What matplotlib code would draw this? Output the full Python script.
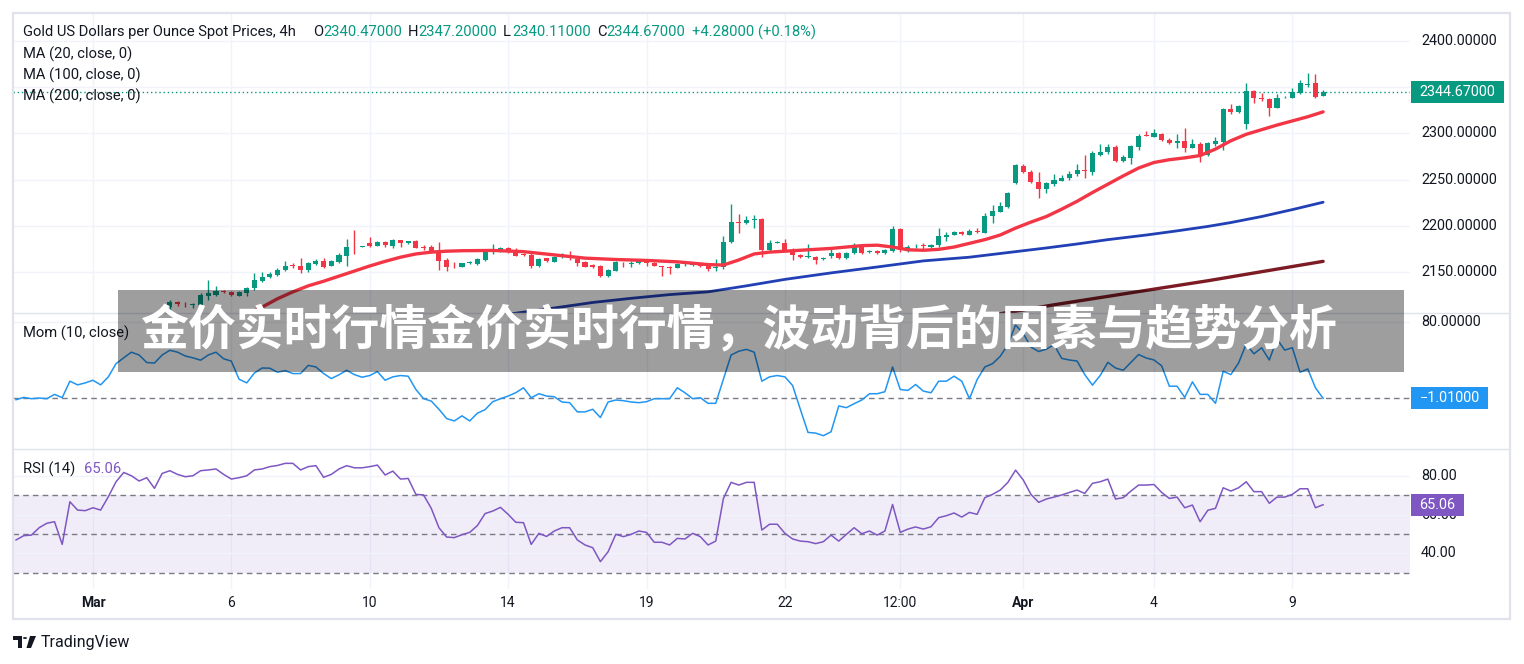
import numpy as np
import matplotlib
matplotlib.use("Agg")
import matplotlib.pyplot as plt
from matplotlib.patches import Rectangle, Circle, Polygon
from matplotlib.lines import Line2D
from matplotlib.transforms import blended_transform_factory

# ---------------- data ----------------
title_cn = "金价实时行情金价实时行情，波动背后的因素与趋势分析"
symbol_name = "Gold US Dollars per Ounce Spot Prices, 4h"
hdr_open, hdr_high, hdr_low, hdr_close = "2340.47000", "2347.20000", "2340.11000", "2344.67000"
hdr_change = "+4.28000 (+0.18%)"

tick_bars = [10, 28, 46, 64, 82, 100, 115, 131, 148, 166]
tick_labels = ["Mar", "6", "10", "14", "19", "22", "12:00", "Apr", "4", "9"]
price_grid = [2150, 2200, 2250, 2300, 2350, 2400]
price_labels = [2150, 2200, 2250, 2300, 2400]   # 2350 is hidden behind the price tag
mom_ticks = [80]
rsi_ticks = [80, 60, 40]
rsi_levels = [70, 50, 30]

first_bar = 20
opens = [
    2112, 2117, 2115.2, 2114, 2114, 2124, 2125.5, 2129.5, 2128.3, 2124.5,
    2127.5, 2132.3, 2140.5, 2144.5, 2147, 2151.8, 2157, 2156.5, 2152.2, 2159,
    2162.3, 2156.9, 2161.2, 2167.7, 2177.4, 2177, 2181.8, 2178.5, 2182.9, 2178.5,
    2184.7, 2181, 2183.6, 2176.4, 2177.4, 2171.3, 2163, 2157.6, 2155.4, 2160,
    2158.7, 2163, 2171.5, 2172, 2175.6, 2172, 2169, 2168.4, 2156.9, 2164.8,
    2161.2, 2166.6, 2165, 2164.1, 2160.6, 2157.5, 2156.4, 2145.6, 2151.4, 2158.8,
    2159, 2159.4, 2160.5, 2160, 2156.5, 2155, 2154.5, 2158.6, 2158, 2158.5,
    2156.4, 2154.7, 2155, 2182.8, 2203.3, 2202.6, 2206.5, 2207, 2173.8, 2181.7,
    2181.7, 2172, 2168.3, 2166.5, 2166.5, 2163.6, 2167.3, 2170.9, 2164.7, 2170.2,
    2177.4, 2171.9, 2173, 2170.2, 2172.7, 2196.1, 2173, 2177.6, 2178.6, 2176.6,
    2179.2, 2188.2, 2190, 2193.6, 2190, 2194, 2192.5, 2210.2, 2215.3, 2220.6,
    2245.9, 2265, 2257.8, 2247.7, 2239.8, 2244.8, 2248.4, 2251.3, 2255.7, 2259.5,
    2258.5, 2276.6, 2279.5, 2285.6, 2270.1, 2273.7, 2285.6, 2297.9, 2296.4, 2299,
    2292.8, 2289.2, 2291.7, 2284.5, 2288.1, 2276.6, 2288.1, 2290.3, 2326.4, 2322.8,
    2309.8, 2345.9, 2337.5, 2337.2, 2327.8, 2339, 2338.6, 2343.3, 2352.8, 2354.2,
    2340.47]
highs = [
    2120, 2118.7, 2117, 2116.5, 2127, 2141, 2135, 2130.5, 2129, 2129,
    2134, 2148.6, 2150, 2150, 2154, 2161.9, 2159.4, 2164.8, 2161.2, 2164,
    2164.8, 2163, 2170.2, 2185.7, 2195.5, 2178.5, 2188.3, 2183, 2183.5, 2185.7,
    2185, 2184, 2184.7, 2179.3, 2179.3, 2182.9, 2164.8, 2160.5, 2160, 2162,
    2165, 2174.6, 2180, 2176.5, 2176.7, 2175.6, 2170.5, 2170.2, 2164.8, 2165.5,
    2167, 2170.2, 2172.7, 2165, 2161.5, 2158.3, 2157.5, 2153, 2162, 2161.1,
    2162, 2163, 2163, 2160.5, 2157, 2156, 2160, 2160, 2160, 2159,
    2157, 2164.4, 2188.9, 2223.5, 2212.7, 2210.5, 2211.6, 2208, 2184.6, 2183,
    2185.3, 2175.5, 2169, 2180.3, 2167, 2166, 2177.4, 2171.5, 2171.5, 2181,
    2178, 2173.5, 2174, 2174.5, 2199.7, 2197.2, 2179.2, 2180, 2181.5, 2180,
    2197.2, 2193.6, 2194.5, 2194.5, 2196.1, 2197.5, 2213.4, 2222.5, 2226, 2236.9,
    2266.5, 2266.5, 2260.3, 2258.5, 2247, 2255.7, 2254.9, 2259.3, 2266.5, 2276.6,
    2280.9, 2288.1, 2288.1, 2287.4, 2276.5, 2287.5, 2299, 2302.6, 2304.7, 2300,
    2295, 2299, 2306.2, 2293.9, 2291, 2291, 2296.4, 2327.8, 2331.4, 2331,
    2354.2, 2347, 2343.3, 2338, 2342.2, 2340.5, 2348.7, 2357.8, 2365, 2363.9,
    2347.2]
lows = [
    2108, 2113, 2112.5, 2111, 2112, 2120, 2124, 2127.5, 2124, 2123.5,
    2124, 2131, 2139.5, 2143.5, 2146, 2151, 2154, 2148.6, 2150.4, 2158,
    2154, 2156, 2159.4, 2156.9, 2169.1, 2176.5, 2177.4, 2178, 2177, 2175.6,
    2177, 2180.5, 2175.6, 2173.8, 2170.5, 2152.2, 2151.1, 2154.7, 2155, 2158.3,
    2158, 2161.9, 2169, 2171.5, 2170.2, 2167, 2167.7, 2154, 2155.8, 2161,
    2160.5, 2165.5, 2163, 2156.9, 2155, 2154, 2145, 2145, 2150.8, 2155,
    2155, 2158.5, 2157, 2156.5, 2146, 2148, 2154, 2157, 2156, 2155,
    2151, 2151.4, 2153, 2181, 2192.5, 2201.5, 2197.2, 2166.5, 2172, 2181,
    2172, 2162.9, 2165, 2165.4, 2158.6, 2163, 2164.7, 2164, 2164, 2169.5,
    2169.5, 2170.5, 2169, 2169.5, 2172, 2172, 2172, 2175.5, 2174.5, 2175.5,
    2177.4, 2183.9, 2189.5, 2190.5, 2189.5, 2192, 2191.8, 2202.6, 2214.5, 2219.5,
    2244.8, 2257, 2246, 2229.7, 2235.1, 2243.5, 2248, 2249.5, 2254.2, 2251.3,
    2254.9, 2275.9, 2277.5, 2269.5, 2268.5, 2266.5, 2282, 2297, 2296, 2292,
    2288.5, 2283.8, 2280.2, 2284, 2268.6, 2275, 2286.5, 2282, 2321.5, 2322,
    2304.7, 2332.5, 2335, 2319.2, 2327, 2338, 2338, 2342.5, 2350.6, 2338.6,
    2340.11]
closes = [
    2117, 2115, 2114.8, 2115.5, 2125, 2127.5, 2129.5, 2128.3, 2125, 2128,
    2132.3, 2141.4, 2145, 2147.5, 2152.2, 2156.9, 2156.5, 2152.2, 2159.4, 2162.3,
    2155.8, 2161.9, 2168.4, 2177.4, 2176.7, 2177.6, 2178.2, 2182.1, 2179.3, 2184.7,
    2181, 2183.6, 2176.4, 2175.8, 2171.3, 2161.9, 2155.8, 2157.2, 2159.4, 2160.2,
    2164.1, 2172, 2172, 2175.6, 2172, 2167.7, 2168.5, 2156.9, 2163.7, 2161.9,
    2166.6, 2169.1, 2164.8, 2159.4, 2155.8, 2155, 2145.6, 2152.1, 2161.1, 2158.4,
    2159.4, 2162.2, 2160.2, 2157, 2155, 2154.5, 2158.6, 2158.9, 2158.8, 2156.2,
    2152.8, 2155, 2182.8, 2204.4, 2203, 2206.2, 2207, 2173.8, 2181.7, 2182,
    2172.7, 2168.3, 2165.8, 2166.9, 2163, 2165.4, 2170.9, 2164.7, 2170.9, 2176.6,
    2170.2, 2172.2, 2170.2, 2173.8, 2196.1, 2173.8, 2177.4, 2178.1, 2178.1, 2179.2,
    2188.9, 2190, 2193.6, 2191.1, 2194.7, 2193.6, 2210.2, 2216.2, 2221.7, 2235.1,
    2265.8, 2257.8, 2247, 2239.8, 2245.9, 2249.5, 2252, 2255.7, 2260.3, 2259.3,
    2278.4, 2279.5, 2285.6, 2270.1, 2274.8, 2286.7, 2297.5, 2297.5, 2300, 2292.8,
    2289.2, 2291.7, 2284.5, 2288.1, 2276.6, 2289.2, 2291.7, 2326.4, 2322.8, 2330,
    2345.9, 2337.9, 2337.2, 2327.8, 2338.6, 2339.4, 2344.4, 2354.2, 2353.1, 2339.7,
    2344.67]

ma20_bars = [30, 32, 34, 36, 38, 40, 42, 44, 46, 48, 50, 52, 54, 56, 58, 62, 66, 70, 74, 78,
             82, 86, 90, 92, 94, 96, 98, 102, 106, 110, 112, 114, 116, 118, 120, 122, 124, 126, 128, 130,
             132, 134, 136, 138, 140, 142, 144, 146, 148, 150, 152, 154, 156, 158, 160, 162, 164, 166, 168, 170]
ma20_vals = [2104, 2112, 2121, 2128.5, 2135, 2140, 2145.5, 2151, 2156.5, 2161.5,
             2166, 2169.5, 2171.5, 2172.5, 2173, 2173.3, 2172, 2168.5, 2165, 2163.5,
             2162.5, 2161, 2158, 2157.5, 2163, 2169.5, 2171.5, 2173.5, 2175.5, 2178.5,
             2179, 2177, 2174, 2173.5, 2174.5, 2177, 2181, 2185, 2190, 2197.5,
             2204, 2210, 2218, 2226.5, 2236, 2245, 2254, 2262.5, 2268.5, 2271.5,
             2273.5, 2276, 2283, 2292, 2299, 2304, 2309, 2313.5, 2318, 2323.3]
ma100_bars = [62, 66, 70, 75, 80, 85, 90, 95, 100, 106, 112, 118, 124, 130, 134, 138, 142, 147,
              151, 155, 158, 162, 166, 170]
ma100_vals = [2102, 2106.5, 2111, 2117, 2121.5, 2125.5, 2128.5, 2135, 2142, 2149, 2155.4, 2162,
              2166, 2172, 2176, 2180.3, 2185, 2190, 2194.5, 2199.3, 2203.5, 2210, 2217.5, 2225.5]
ma200_bars = [126, 130, 135, 140, 145, 150, 155, 160, 165, 170]
ma200_vals = [2102, 2107.5, 2114.5, 2121, 2127.5, 2134, 2140.5, 2147.5, 2154.5, 2161.5]

mom_vals = [
    -2.5, 0, -1.4, -0.7, -1.4, 3.2, -0.3, 17.2, 13.3, 15.4,
    18.2, 13.3, 21.8, 35.8, 42, 48, 45, 37, 36.5, 45,
    50, 48, 44, 42, 39.5, 45, 48, 41, 38.5, 19.3,
    15.4, 25.9, 31.2, 31, 26.7, 28.4, 25.3, 25.3, 34, 32.3,
    25.3, 20, 24, 28.8, 24.2, 21.4, 23.2, 27.4, 18.2, 21.8,
    23.2, 22.5, 8.4, -1.4, -3.9, -12.6, -22.5, -25, -19.6, -25,
    -16.8, -13, -4.6, -1.4, 1.4, 5, 10.2, -0.4, 3.9, 1.4,
    0.7, -4.9, -5.6, -15.4, -15.4, -12.6, -21.4, -4.9, -2.8, -3.5,
    -4.9, -5.6, -4.6, -1.4, -1.4, -1.4, 10.2, 4.9, -1.4, -0.4,
    -6.3, -6.3, 19.3, 45, 49, 51, 48, 17.2, 21.8, 23.2,
    21.8, 12.6, -12.6, -37.2, -37.9, -40.7, -36.5, -9.1, -10.9, -6.7,
    -2.8, 3.9, 3.9, 6, 32.3, 8.4, 7.4, 13.7, 6.7, 4.9,
    17.2, 17.2, 22.5, 17.2, -1.4, 18.9, 32.3, 35.8, 43.6, 55.9,
    76.9, 67.8, 53.4, 48.7, 51.2, 55.9, 41.4, 39.7, 38.6, 24.2,
    13, 23.2, 37.2, 31.2, 28.8, 37.2, 45.5, 41.8, 39.7, 33.5,
    11.9, 11.9, 0, 16.5, 3.2, 3.2, -6.3, 27.7, 24.2, 36.5,
    56.7, 46.2, 52.7, 39.7, 62, 50.2, 52.7, 26.7, 30.2, 10.2,
    -1.01]
rsi_vals = [
    46.9, 49.1, 49.4, 53.2, 55.5, 56.3, 44.6, 66.6, 62.3, 62,
    63.5, 62.3, 69.2, 76.9, 81.7, 80, 77.3, 79, 73.5, 81.2,
    82.6, 80.7, 79.5, 80, 82.6, 83, 83.5, 80.7, 78.3, 79,
    80, 83, 83.5, 84.7, 85.3, 86.4, 86.4, 83, 84.7, 85.2,
    79.2, 80.7, 83.5, 85.2, 84.1, 84.1, 84.7, 85.5, 80.4, 82.4,
    78.3, 78.6, 70.4, 70.1, 63.2, 53.2, 48.4, 48.1, 49.6, 50.8,
    54.3, 60.5, 61.8, 63.7, 60.1, 56, 55.8, 44.6, 50.3, 48.7,
    51.5, 53.2, 53.2, 46.9, 44.3, 42.9, 35.7, 40.8, 49.8, 48.6,
    49.8, 51.5, 50.8, 45.7, 45.7, 44.3, 47.7, 47.4, 50.3, 48.6,
    44.3, 46.3, 68.3, 76.6, 75.2, 76.6, 76.6, 52, 55, 55,
    50.3, 47.4, 46.3, 46, 45, 46, 49.4, 46.3, 49.8, 53.2,
    50.1, 51.5, 49.4, 51.5, 65.2, 50.8, 52.5, 53.6, 52.5, 53.7,
    58.4, 59.4, 60.8, 58.7, 61.1, 60.1, 68.7, 70.4, 72.6, 76.6,
    82.9, 77.8, 70.4, 66.3, 68, 69, 70.1, 71.4, 72.6, 70.9,
    76.1, 76.9, 78.3, 68, 68.7, 72.1, 75.2, 75.2, 75.5, 71.4,
    68.3, 69, 63.5, 64.9, 56.3, 62.2, 63.2, 73.8, 72.1, 73.8,
    76.9, 71.8, 71.8, 65.8, 69, 69, 70.4, 73.3, 73.3, 63.5,
    65.06]

# ---------------- style ----------------
GREEN = "#089981"
RED = "#f23645"
MA20_C = "#f23645"
MA100_C = "#2240b5"
MA200_C = "#7d1b24"
MOM_C = "#2196f3"
RSI_C = "#7e57c2"
TXT = "#131722"
GRID = "#f0f3fa"
BORDER = "#e0e3eb"
DASH = "#787b86"

plt.rcParams['font.family'] = ['Roboto', 'DejaVu Sans']

W, H = 1524, 664
fig = plt.figure(figsize=(W / 100, H / 100), dpi=100)
fig.patch.set_facecolor("white")


def fx(x):
    return x / W


def fy(y):
    return 1 - y / H


def rect(x0, y0, x1, y1):
    return [fx(x0), fy(y1), (x1 - x0) / W, (y1 - y0) / H]


ax_p = fig.add_axes(rect(13, 13, 1410, 313))
ax_m = fig.add_axes(rect(13, 313, 1410, 449))
ax_r = fig.add_axes(rect(13, 449, 1410, 589))
XLIM = (-0.4, 181.3)
for ax in (ax_p, ax_m, ax_r):
    ax.set_xlim(*XLIM)
    for s in ax.spines.values():
        s.set_visible(False)
    ax.set_xticks([])
    ax.set_yticks([])
    ax.patch.set_alpha(0)
    for b in tick_bars:
        ax.axvline(b, color=GRID, lw=1, zorder=0)

ax_p.set_ylim(2105.6, 2430.3)
ax_m.set_ylim(-54.8, 89.6)
ax_r.set_ylim(21.6, 93.8)

LBL_X = (1421 - 13) / (1410 - 13)
AX_FS = 10.4


def right_labels(ax, ticks, fmt, grid=None):
    for v in (grid if grid is not None else ticks):
        ax.axhline(v, color=GRID, lw=1, zorder=0)
    for v in ticks:
        ax.text(LBL_X, v, fmt.format(v), transform=ax.get_yaxis_transform(), va="center",
                ha="left", fontsize=AX_FS, color=TXT, clip_on=False)


def tag(ax, val, text, color, width_px):
    # vertical pixel position of the value through the axis' own data transform
    y_disp = ax.transData.transform((0, val))[1]
    y_fig = fig.transFigure.inverted().transform((0, y_disp))[1]
    hgt = 22 / H
    fig.add_artist(Rectangle((fx(1411), y_fig - hgt / 2), width_px / W, hgt,
                             transform=fig.transFigure, fc=color, ec="none", zorder=12))
    fig.text(fx(1411) + width_px / W / 2, y_fig, text, ha="center", va="center",
             fontsize=AX_FS, color="white", zorder=13)


# ---- main price panel ----
right_labels(ax_p, price_labels, "{:.5f}", grid=price_grid)
o = np.array(opens)
h = np.array(highs)
l = np.array(lows)
c = np.array(closes)
bars = np.arange(first_bar, first_bar + len(c))
cols = np.where(c >= o, GREEN, RED)
ax_p.vlines(bars, l, h, colors=cols, lw=1.0, zorder=3)
ax_p.bar(bars, np.maximum(np.abs(c - o), 0.7), bottom=np.minimum(o, c), width=0.66,
         color=cols, linewidth=0, zorder=4)
ax_p.plot(ma200_bars, ma200_vals, color=MA200_C, lw=2.4, zorder=5, solid_capstyle="round")
ax_p.plot(ma100_bars, ma100_vals, color=MA100_C, lw=2.0, zorder=5, solid_capstyle="round")
ax_p.plot(ma20_bars, ma20_vals, color=MA20_C, lw=2.4, zorder=6, solid_capstyle="round")
ax_p.axhline(c[-1], color=GREEN, lw=1, ls=(0, (1, 2)), zorder=2)
tag(ax_p, c[-1], hdr_close, GREEN, 93)

# ---- momentum panel ----
right_labels(ax_m, mom_ticks, "{:.5f}")
ax_m.plot(np.arange(len(mom_vals)), mom_vals, color=MOM_C, lw=1.1, zorder=3)
ax_m.axhline(mom_vals[-1], color=DASH, lw=1, ls=(0, (4, 3)), zorder=2)
tag(ax_m, mom_vals[-1], "\u22121.01000", MOM_C, 77)

# ---- RSI panel ----
ax_r.axhspan(min(rsi_levels), max(rsi_levels), color=RSI_C, alpha=0.1, lw=0, zorder=0)
right_labels(ax_r, rsi_ticks, "{:.2f}")
for lv in rsi_levels:
    ax_r.axhline(lv, color=DASH, lw=1, ls=(0, (4, 3)), zorder=2)
ax_r.plot(np.arange(len(rsi_vals)), rsi_vals, color=RSI_C, lw=1.1, zorder=3)
tag(ax_r, rsi_vals[-1], f"{rsi_vals[-1]:.2f}", RSI_C, 53)

# ---- time axis ----
tr = blended_transform_factory(ax_r.transData, fig.transFigure)
for b, lab in zip(tick_bars, tick_labels):
    fig.text(b, fy(603), lab, transform=tr, ha="center", va="center", fontsize=10,
             color=TXT, fontweight="bold" if lab in ("Mar", "Apr") else "normal")

# ---- legends / header ----
HFS = 10.6
fig.text(fx(23), fy(32), symbol_name, fontsize=HFS, color=TXT, va="center")
for x_l, x_v, letter, val in [(313, 323.5, "O", hdr_open), (408, 418, "H", hdr_high),
                              (503, 512, "L", hdr_low), (597, 606.5, "C", hdr_close)]:
    fig.text(fx(x_l), fy(32), letter, fontsize=HFS, color=TXT, va="center")
    fig.text(fx(x_v), fy(32), val, fontsize=HFS, color=GREEN, va="center")
fig.text(fx(692), fy(32), hdr_change, fontsize=HFS, color=GREEN, va="center")
fig.text(fx(23), fy(54), "MA (20, close, 0)", fontsize=HFS, color=TXT, va="center")
fig.text(fx(23), fy(75), "MA (100, close, 0)", fontsize=HFS, color=TXT, va="center")
fig.text(fx(23), fy(96), "MA (200, close, 0)", fontsize=HFS, color=TXT, va="center")
fig.text(fx(23), fy(333), "Mom (10, close)", fontsize=HFS, color=TXT, va="center")
fig.text(fx(23), fy(469), "RSI (14)", fontsize=HFS, color=TXT, va="center")
fig.text(fx(84), fy(469), f"{rsi_vals[-1]:.2f}", fontsize=HFS, color=RSI_C, va="center")

# ---- frame & separators ----
fig.add_artist(Rectangle((fx(13), fy(619)), (1510 - 13) / W, (619 - 13) / H, fill=False,
                         ec=BORDER, lw=1.6, transform=fig.transFigure, zorder=1))
for yy in (313, 449):
    fig.add_artist(Line2D([fx(13), fx(1510)], [fy(yy), fy(yy)], color=BORDER, lw=1,
                          transform=fig.transFigure, zorder=1))

# ---- TradingView logo ----
def pxpoly(pts, **kw):
    return Polygon([(fx(a), fy(b)) for a, b in pts], closed=True, transform=fig.transFigure, **kw)

fig.add_artist(pxpoly([(13, 636), (22, 636), (22, 648), (18, 648), (18, 640), (13, 640)],
                      fc=TXT, ec="none"))
fig.add_artist(Circle((fx(25), fy(638)), 2.1 / W, transform=fig.transFigure, fc=TXT, ec="none"))
fig.add_artist(pxpoly([(30, 636), (36, 636), (31, 648), (26.5, 648)], fc=TXT, ec="none"))
fig.text(fx(41), fy(642.5), "TradingView", fontsize=11.5, color=TXT, va="center")

# ---- banner overlay ----
fig.add_artist(Rectangle((fx(118), fy(372)), (1404 - 118) / W, (372 - 290) / H,
                         transform=fig.transFigure, fc="black", alpha=0.38, ec="none", zorder=20))
fig.text(fx(738), fy(331), title_cn, ha="center", va="center", fontsize=34.5,
         fontweight="bold", color="white", family=["Noto Sans CJK SC", "DejaVu Sans"], zorder=21)

fig.savefig("out.png", dpi=100, facecolor="white")
